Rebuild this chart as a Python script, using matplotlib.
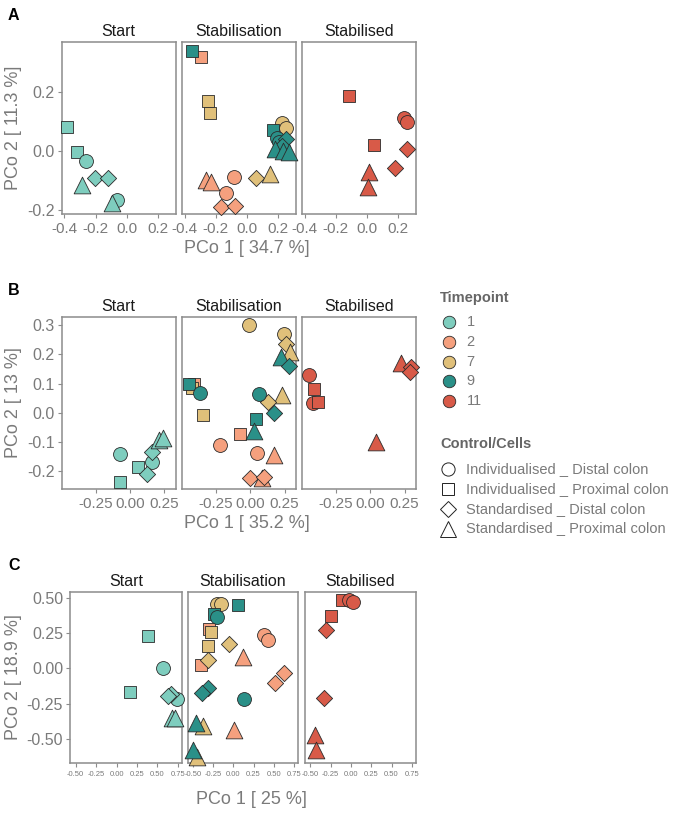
import matplotlib
matplotlib.use("Agg")
import matplotlib.pyplot as plt
from matplotlib.lines import Line2D

plt.rcParams['font.family'] = ['Liberation Sans', 'DejaVu Sans']
plt.rcParams['axes.unicode_minus'] = False

# ---------------- data ----------------
facets = ["Start", "Stabilisation", "Stabilised"]
timepoints = ["1", "2", "7", "9", "11"]
tp_colors = ["#7ECDBE", "#F5A07E", "#E0C07A", "#2A9088", "#D85A48"]
cell_types = ["ID", "IP", "SD", "SP"]
cell_labels = ["Individualised _ Distal colon", "Individualised _ Proximal colon",
               "Standardised _ Distal colon", "Standardised _ Proximal colon"]

# Panel A
a_facet = ["Start"] * 8 + ["Stabilisation"] * 22 + ["Stabilised"] * 8
a_time = (["1"] * 8 +
          ["2", "2", "2", "2", "2", "2", "2",
           "7", "7", "7", "7", "7", "7",
           "9", "9", "9", "9", "9", "9", "9", "9", "9"] +
          ["11"] * 8)
a_shape = (["IP", "IP", "ID", "SD", "SD", "SP", "ID", "SP"] +
           ["IP", "SP", "SP", "ID", "ID", "SD", "SD",
            "IP", "IP", "ID", "ID", "SD", "SP",
            "IP", "IP", "ID", "ID", "SD", "SD", "SP", "SP", "SP"] +
           ["IP", "ID", "ID", "IP", "SD", "SD", "SP", "SP"])
a_x = ([-0.381, -0.321, -0.261, -0.204, -0.118, -0.285, -0.065, -0.093] +
       [-0.295, -0.261, -0.229, -0.084, -0.133, -0.165, -0.078,
        -0.253, -0.238, 0.221, 0.251, 0.059, 0.148,
        -0.353, 0.166, 0.191, 0.205, 0.247, 0.225, 0.178, 0.230, 0.268] +
       [-0.118, 0.238, 0.255, 0.042, 0.255, 0.180, 0.010, 0.005])
a_y = ([0.082, -0.005, -0.033, -0.091, -0.091, -0.117, -0.166, -0.177] +
       [0.317, -0.100, -0.106, -0.089, -0.143, -0.190, -0.188,
        0.167, 0.127, 0.094, 0.077, -0.091, -0.078,
        0.339, 0.069, 0.043, 0.030, 0.039, 0.018, 0.007, 0.001, -0.005] +
       [0.185, 0.112, 0.097, 0.021, 0.005, -0.057, -0.072, -0.121])

# Panel B
b_facet = ["Start"] * 8 + ["Stabilisation"] * 24 + ["Stabilised"] * 8
b_time = ["1"] * 8 + ["2"] * 8 + ["7"] * 8 + ["9"] * 8 + ["11"] * 8
b_shape = (["ID", "IP", "IP", "ID", "SD", "SD", "SP", "SP"] +
           ["IP", "IP", "ID", "ID", "SP", "SP", "SD", "SD"] +
           ["ID", "ID", "SD", "SP", "IP", "SP", "SD", "IP"] +
           ["SP", "SD", "IP", "ID", "ID", "SD", "IP", "SP"] +
           ["ID", "IP", "ID", "IP", "SP", "SP", "SD", "SD"])
b_x = ([-0.073, -0.073, 0.061, 0.158, 0.121, 0.158, 0.214, 0.243] +
       [-0.408, -0.073, -0.223, 0.049, 0.175, 0.085, 0.000, 0.097] +
       [-0.012, 0.243, 0.262, 0.286, -0.425, 0.231, 0.129, -0.345] +
       [0.226, 0.279, -0.449, -0.369, 0.063, 0.170, 0.044, 0.029] +
       [-0.449, -0.413, -0.417, -0.381, 0.044, 0.226, 0.296, 0.291])
b_y = ([-0.142, -0.236, -0.185, -0.168, -0.210, -0.136, -0.094, -0.088] +
       [0.097, -0.074, -0.111, -0.139, -0.145, -0.225, -0.225, -0.219] +
       [0.300, 0.268, 0.237, 0.207, 0.083, 0.060, 0.035, -0.008] +
       [0.192, 0.161, 0.100, 0.066, 0.063, -0.002, -0.022, -0.063] +
       [0.129, 0.080, 0.032, 0.035, -0.102, 0.172, 0.158, 0.140])

# Panel C
c_facet = ["Start"] * 8 + ["Stabilisation"] * 24 + ["Stabilised"] * 8
c_time = ["1"] * 8 + ["2"] * 8 + ["7"] * 8 + ["9"] * 8 + ["11"] * 8
c_shape = (["IP", "ID", "IP", "ID", "SD", "SD", "SP", "SP"] +
           ["ID", "ID", "SP", "IP", "SD", "SD", "SP", "IP"] +
           ["ID", "ID", "IP", "IP", "SD", "SD", "SP", "SP"] +
           ["IP", "ID", "IP", "SD", "SD", "ID", "SP", "SP"] +
           ["IP", "ID", "ID", "IP", "SD", "SD", "SP", "SP"])
c_x = ([0.389, 0.573, 0.164, 0.736, 0.663, 0.634, 0.675, 0.716] +
       [0.376, 0.429, 0.115, -0.400, 0.622, 0.511, 0.008, -0.307] +
       [-0.204, -0.155, -0.278, -0.319, -0.049, -0.319, -0.380, -0.450] +
       [-0.245, -0.204, 0.061, -0.319, -0.384, 0.135, -0.458, -0.499] +
       [-0.106, -0.025, 0.025, -0.241, -0.303, -0.331, -0.442, -0.434])
c_y = ([0.229, 0.000, -0.165, -0.217, -0.180, -0.196, -0.349, -0.354] +
       [0.236, 0.200, 0.083, 0.024, -0.035, -0.106, -0.436, 0.276] +
       [0.455, 0.455, 0.259, 0.160, 0.172, 0.059, -0.406, -0.625] +
       [0.384, 0.361, 0.448, -0.142, -0.172, -0.217, -0.389, -0.578] +
       [0.483, 0.483, 0.472, 0.373, 0.271, -0.212, -0.472, -0.578])

# ---------------- style ----------------
marker_of = {"ID": "o", "IP": "s", "SD": "D", "SP": "^"}
size_of = {"ID": 100, "IP": 76, "SD": 68, "SP": 145}
color_of = dict(zip(timepoints, tp_colors))

GRAY_TXT = "#7a7a7a"
GRAY_LINE = "#8c8c8c"

W, H = 674, 826
fig = plt.figure(figsize=(W / 100, H / 100), dpi=100)


def px_axes(x0, y0, x1, y1):
    return fig.add_axes([x0 / W, 1 - y1 / H, (x1 - x0) / W, (y1 - y0) / H])


panels = [
    dict(letter="A", fac=a_facet, t=a_time, sh=a_shape, x=a_x, y=a_y,
         top=41.7, bot=214.3, xs=[(61.7, 175.7), (182, 296), (302, 416)],
         xlim=(-0.417, 0.313), ylim=(-0.2145, 0.369),
         xt=[-0.4, -0.2, 0.0, 0.2], xtl=["-0.4", "-0.2", "0.0", "0.2"], xfs=11,
         yt=[-0.2, 0.0, 0.2], ytl=["-0.2", "0.0", "0.2"],
         xlab="PCo 1 [ 34.7 %]", ylab="PCo 2 [ 11.3 %]", xlaby=249),
    dict(letter="B", fac=b_facet, t=b_time, sh=b_shape, x=b_x, y=b_y,
         top=316.7, bot=489.3, xs=[(61.7, 175.7), (182, 296), (302, 416)],
         xlim=(-0.497, 0.333), ylim=(-0.2626, 0.329),
         xt=[-0.25, 0.0, 0.25], xtl=["-0.25", "0.00", "0.25"], xfs=11,
         yt=[-0.2, -0.1, 0.0, 0.1, 0.2, 0.3],
         ytl=["-0.2", "-0.1", "0.0", "0.1", "0.2", "0.3"],
         xlab="PCo 1 [ 35.2 %]", ylab="PCo 2 [ 13 %]", xlaby=524),
    dict(letter="C", fac=c_facet, t=c_time, sh=c_shape, x=c_x, y=c_y,
         top=591.7, bot=763.3, xs=[(70.3, 181.7), (187.7, 297.7), (305, 415.7)],
         xlim=(-0.565, 0.797), ylim=(-0.672, 0.542),
         xt=[-0.5, -0.25, 0.0, 0.25, 0.5, 0.75],
         xtl=["-0.50", "-0.25", "0.00", "0.25", "0.50", "0.75"], xfs=5.5,
         yt=[-0.5, -0.25, 0.0, 0.25, 0.5],
         ytl=["-0.50", "-0.25", "0.00", "0.25", "0.50"],
         xlab="PCo 1 [ 25 %]", ylab="PCo 2 [ 18.9 %]", xlaby=800),
]

for p in panels:
    fig.text(8 / W, 1 - (p["top"] - 26) / H, p["letter"], fontsize=11.5,
             fontweight="bold", color="black", ha="left", va="center")
    for k, fac in enumerate(facets):
        x0, x1 = p["xs"][k]
        ax = px_axes(x0, p["top"], x1, p["bot"])
        for f, t, s, xv, yv in zip(p["fac"], p["t"], p["sh"], p["x"], p["y"]):
            if f != fac:
                continue
            ax.scatter([xv], [yv], marker=marker_of[s], s=size_of[s],
                       c=color_of[t], edgecolors="#2b2b2b", linewidths=0.6,
                       clip_on=False, zorder=3)
        ax.set_xlim(*p["xlim"])
        ax.set_ylim(*p["ylim"])
        ax.set_xticks(p["xt"])
        ax.set_xticklabels(p["xtl"], fontsize=p["xfs"], color=GRAY_TXT)
        ax.set_yticks(p["yt"])
        if k == 0:
            ax.set_yticklabels(p["ytl"], fontsize=11.5, color=GRAY_TXT)
        else:
            ax.tick_params(axis="y", left=False, labelleft=False)
        ax.tick_params(axis="both", direction="out", length=3.2, width=0.8,
                       color=GRAY_LINE, pad=2)
        for sp in ax.spines.values():
            sp.set_color(GRAY_LINE)
            sp.set_linewidth(1.1)
        ax.set_title(fac, fontsize=11.5, color="#1a1a1a", pad=4)
    # axis titles
    xmid = (p["xs"][0][0] + p["xs"][2][1]) / 2 + 8
    fig.text(xmid / W, 1 - p["xlaby"] / H, p["xlab"], fontsize=13,
             color=GRAY_TXT, ha="center", va="center")
    fig.text(14 / W, 1 - ((p["top"] + p["bot"]) / 2) / H, p["ylab"], fontsize=13,
             color=GRAY_TXT, ha="center", va="center", rotation=90)

# ---------------- legends ----------------
fig.text(440 / W, 1 - 298 / H, "Timepoint", fontsize=10.5, fontweight="bold",
         color="#666666", ha="left", va="center")
leg_y = [321.5, 341.5, 361.5, 381, 401]
for tp, col, yy in zip(timepoints, tp_colors, leg_y):
    fig.add_artist(Line2D([449 / W], [1 - yy / H], marker="o", markersize=9,
                          markerfacecolor=col, markeredgecolor="#2b2b2b",
                          markeredgewidth=0.6, linestyle="none",
                          transform=fig.transFigure))
    fig.text(466.5 / W, 1 - yy / H, tp, fontsize=10.5, color=GRAY_TXT,
             ha="left", va="center")

fig.text(440 / W, 1 - 443.5 / H, "Control/Cells", fontsize=10.5,
         fontweight="bold", color="#666666", ha="left", va="center")
leg2_y = [469, 489, 509, 528.5]
leg2_ms = {"ID": 9.5, "IP": 8.5, "SD": 8.5, "SP": 11}
for ct, lab, yy in zip(cell_types, cell_labels, leg2_y):
    fig.add_artist(Line2D([448 / W], [1 - yy / H], marker=marker_of[ct],
                          markersize=leg2_ms[ct], markerfacecolor="white",
                          markeredgecolor="#222222", markeredgewidth=0.7,
                          linestyle="none", transform=fig.transFigure))
    fig.text(466.5 / W, 1 - yy / H, lab, fontsize=10.5, color=GRAY_TXT,
             ha="left", va="center")

fig.savefig("out.png", dpi=100, facecolor="white")
